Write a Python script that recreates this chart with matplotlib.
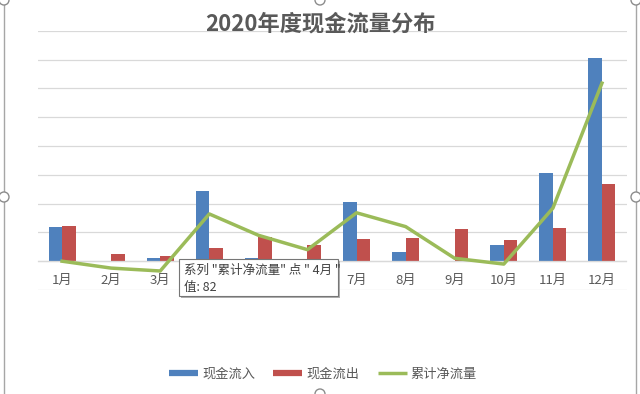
import numpy as np
import matplotlib
matplotlib.use("Agg")
import matplotlib.pyplot as plt
from matplotlib.lines import Line2D
from matplotlib.patches import Rectangle, Ellipse

plt.rcParams['font.family'] = ['Noto Sans CJK SC', 'DejaVu Sans']

# data
months = ['1月', '2月', '3月', '4月', '5月', '6月', '7月', '8月', '9月', '10月', '11月', '12月']
cash_in = [60, 0, 5, 121, 5, 3, 102, 16, 0, 28, 153, 352]
cash_out = [61, 13, 9, 23, 42, 28, 39, 40, 56, 36, 58, 134]
cumulative = [0, -12, -17, 82, 45, 20, 84, 60, 5, -5, 92, 309]

blue = '#4F81BD'
red = '#C0504D'
green = '#9BBB59'
grey_txt = '#595959'
grid_c = '#D9D9D9'

W, H = 640, 394
fig = plt.figure(figsize=(W / 100, H / 100), dpi=100)
# plot area in pixel terms: x 37.5..626.5, y 30.7..290
ax = fig.add_axes([37.5 / W, 1 - 290 / H, (626.5 - 37.5) / W, (290 - 30.7) / H])

x = np.arange(len(months))
w = 0.275
ax.bar(x - w / 2, cash_in, w, color=blue, zorder=2, label='现金流入')
ax.bar(x + w / 2, cash_out, w, color=red, zorder=2, label='现金流出')
ax.plot(x, cumulative, color=green, lw=2.5, zorder=3, solid_joinstyle='round', label='累计净流量')

ax.set_xlim(-0.5, len(months) - 0.5)
ax.set_ylim(-50, 400)
ax.set_yticks(np.arange(-50, 401, 50))
ax.yaxis.grid(True, color=grid_c, lw=0.9, zorder=0)
ax.set_axisbelow(True)
ax.tick_params(left=False, labelleft=False, bottom=False)

for s in ['top', 'right', 'left']:
    ax.spines[s].set_visible(False)
ax.spines['bottom'].set_position(('data', 0))
ax.spines['bottom'].set_color(grid_c)
ax.spines['bottom'].set_linewidth(0.9)

ax.set_xticks(x)
ax.set_xticklabels(months, fontsize=9.5, color=grey_txt)
ax.tick_params(axis='x', pad=6)
# labels for Apr-Jun sit under the tooltip in the reference
for lbl in ax.get_xticklabels()[3:6]:
    lbl.set_visible(False)

fig.text(320 / W, 1 - 24 / H, '2020年度现金流量分布', ha='center', va='center',
         fontsize=16, fontweight='bold', color=grey_txt)

handles = [Line2D([], [], color=blue, lw=4.5, solid_capstyle='butt'),
           Line2D([], [], color=red, lw=4.5, solid_capstyle='butt'),
           Line2D([], [], color=green, lw=2.5, solid_capstyle='butt')]
fig.legend(handles, ['现金流入', '现金流出', '累计净流量'], loc='center',
           bbox_to_anchor=(323 / W, 1 - 374 / H), ncol=3, frameon=False,
           fontsize=9.5, labelcolor=grey_txt, handlelength=2.2,
           handletextpad=0.3, columnspacing=1.4)

# tooltip box over April
bx0, by0, bx1, by1 = 179, 259, 338, 296
fig.add_artist(Rectangle(((bx0 + 2) / W, 1 - (by1 + 2) / H), (bx1 - bx0) / W, (by1 - by0) / H,
                         transform=fig.transFigure, facecolor='#B0B0B0', edgecolor='none', zorder=5))
fig.add_artist(Rectangle((bx0 / W, 1 - by1 / H), (bx1 - bx0) / W, (by1 - by0) / H,
                         transform=fig.transFigure, facecolor='white', edgecolor='#767676', lw=0.8, zorder=6))
fig.text(184 / W, 1 - 270 / H, '系列 "累计净流量" 点 " 4月 "', ha='left', va='center',
         fontsize=9, color='#404040', zorder=7)
fig.text(184 / W, 1 - 287 / H, '值: 82', ha='left', va='center',
         fontsize=9, color='#404040', zorder=7)

# chart selection frame and handles
for xp in [4, 636]:
    fig.add_artist(Line2D([xp / W, xp / W], [0, 1], transform=fig.transFigure, color='#A6A6A6', lw=1, zorder=8))
for (hx, hy) in [(4, 0), (320, 0), (636, 0), (4, 197), (636, 197), (320, 394)]:
    fig.add_artist(Ellipse((hx / W, 1 - hy / H), 10 / W, 10 / H, transform=fig.transFigure,
                           facecolor='white', edgecolor='#8C8C8C', lw=1, zorder=9))

fig.savefig('out.png', dpi=100)
